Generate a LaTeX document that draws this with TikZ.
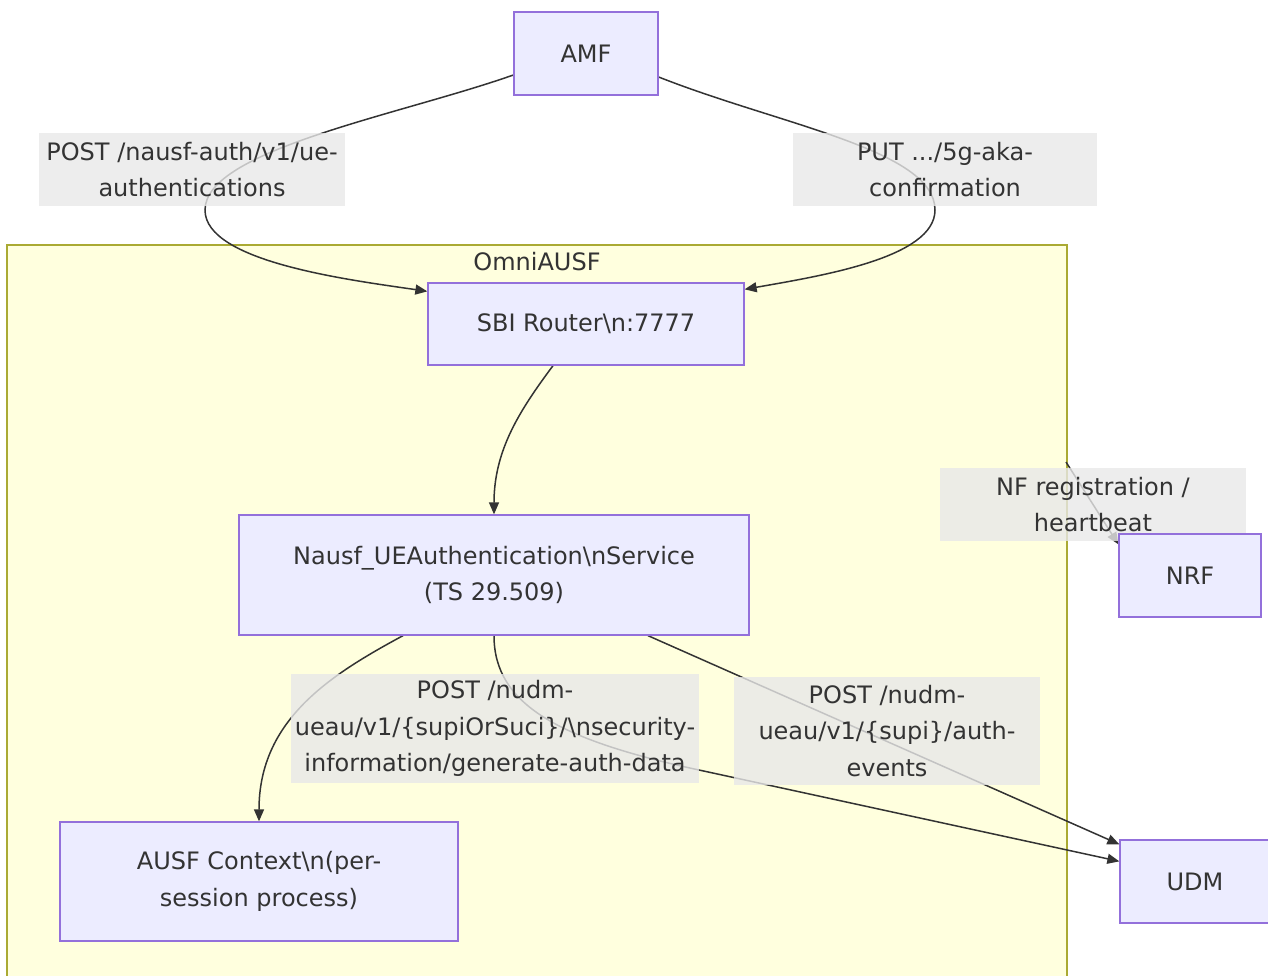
\documentclass[tikz,border=0pt]{standalone}
\usepackage{fontspec}
\setmainfont{DejaVu Sans}
\usetikzlibrary{arrows.meta}
\definecolor{nodefill}{HTML}{ECECFF}
\definecolor{nodeline}{HTML}{9370DB}
\definecolor{clusterfill}{HTML}{FFFFDE}
\definecolor{clusterline}{HTML}{AAAA33}
\definecolor{txt}{HTML}{333333}
\definecolor{edgecol}{HTML}{333333}
\definecolor{lblbg}{RGB}{232,232,232}
\begin{document}
\begin{tikzpicture}[x=1pt,y=-1pt,
  every node/.style={font=\fontsize{24}{36.5}\selectfont, text=txt},
  box/.style={draw=nodeline, fill=nodefill, line width=1.3pt, inner sep=0pt, align=center},
  lbl/.style={fill=lblbg, fill opacity=0.8, text opacity=1, inner sep=0pt, align=center},
  conn/.style={draw=edgecol, line width=1.5pt, -{Triangle[length=12pt,width=10pt]}}]
\path[use as bounding box] (0,0) rectangle (1268,976);
\clip (0,0) rectangle (1268,976);
% cluster
\node[draw=clusterline, fill=clusterfill, line width=1.3pt, inner sep=0pt,
      minimum width=1060pt, minimum height=755pt] (cluster) at (537,622.5) {};
\node (title) at (537,262) {OmniAUSF};
% nodes (placed first, drawn again later on top)
\path
  node[box, minimum width=144pt, minimum height=83pt] (AMF) at (586,53.5) {}
  node[box, minimum width=316pt, minimum height=82pt] (SBI) at (586,324) {}
  node[box, minimum width=510pt, minimum height=120pt] (NAUSF) at (494,575) {}
  node[box, minimum width=398pt, minimum height=119pt] (CTX) at (259,881.5) {}
  node[box, minimum width=142pt, minimum height=83pt] (NRF) at (1190,575.5) {}
  node[box, minimum width=150pt, minimum height=83pt] (UDM) at (1195,881.5) {};
\coordinate (regstart) at (1066,462);
% edges
\draw[conn] ([yshift=-21.5pt]AMF.west) .. controls (400,115) and (205,150) .. (205,210)
   .. controls (205,262) and (350,280) .. ([yshift=-9pt]SBI.north west);
\draw[conn] ([yshift=-23.5pt]AMF.east) .. controls (780,125) and (935,150) .. (935,210)
   .. controls (935,258) and (820,276) .. ([yshift=-7pt]SBI.north east);
\draw[conn] ([xshift=-33pt]SBI.south) .. controls (520,410) and (494,450) .. (NAUSF.north);
\draw[conn] ([xshift=-91pt]NAUSF.south) .. controls (330,675) and (259,720) .. (CTX.north);
\draw[conn] (NAUSF.south) .. controls (494,705) and (560,740) .. (699,770) -- ([yshift=-22pt]UDM.north west);
\draw[conn] ([xshift=154pt]NAUSF.south) -- ([yshift=-5pt]UDM.north west);
\draw[conn] (regstart) -- ([yshift=-11pt]NRF.north west);
% labels
\node[lbl, minimum width=306pt, minimum height=73pt] (L1) at (192,169.5) {POST /nausf-auth/v1/ue-\\authentications};
\node[lbl, minimum width=304pt, minimum height=73pt] (L2) at (945,169.5) {PUT .../5g-aka-\\confirmation};
\node[lbl, minimum width=408pt, minimum height=109pt] (L3) at (495,728.5) {POST /nudm-\\ueau/v1/\{supiOrSuci\}/\textbackslash{}nsecurity-\\information/generate-auth-data};
\node[lbl, minimum width=306pt, minimum height=108pt] (L4) at (887,731) {POST /nudm-\\ueau/v1/\{supi\}/auth-\\events};
\node[lbl, minimum width=306pt, minimum height=73pt] (L5) at (1093,504.5) {NF registration /\\heartbeat};
% node texts
\node[box, minimum width=144pt, minimum height=83pt] at (AMF) {AMF};
\node[box, minimum width=316pt, minimum height=82pt] at (SBI) {SBI Router\textbackslash{}n:7777};
\node[box, minimum width=510pt, minimum height=120pt] at (NAUSF) {Nausf\_UEAuthentication\textbackslash{}nService\\(TS 29.509)};
\node[box, minimum width=398pt, minimum height=119pt] at (CTX) {AUSF Context\textbackslash{}n(per-\\session process)};
\node[box, minimum width=142pt, minimum height=83pt] at (NRF) {NRF};
\node[box, minimum width=150pt, minimum height=83pt] at (UDM) {UDM};
\end{tikzpicture}
\end{document}
